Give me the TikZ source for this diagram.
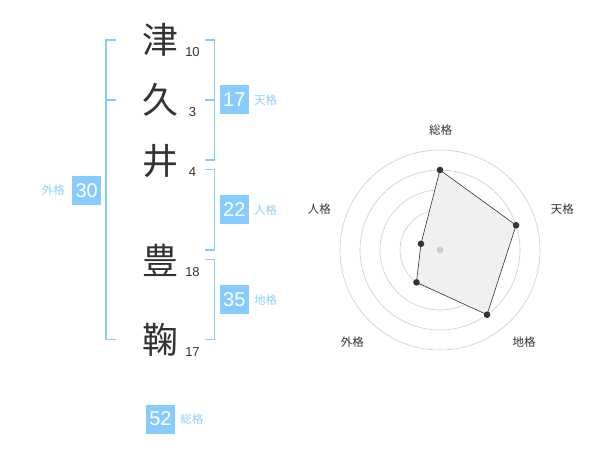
\documentclass[tikz,border=0pt]{standalone}
\usepackage{fontspec}
\setmainfont{Noto Sans CJK JP}
\newfontfamily\digitfont{Liberation Sans}
\usetikzlibrary{positioning}
\definecolor{kakublue}{HTML}{88CCFF}
\definecolor{kakulabel}{HTML}{8ED0FA}
\definecolor{chargray}{HTML}{333333}
\definecolor{ringgray}{HTML}{CCCCCC}
\definecolor{areagray}{HTML}{F0F0F0}

\begin{document}
\begin{tikzpicture}[x=1pt,y=-1pt,
  kanji/.style={text=chargray, font=\fontsize{36}{36}\selectfont, inner sep=0pt},
  strokes/.style={text=chargray, font=\digitfont\fontsize{13}{13}\selectfont, inner sep=0pt},
  kakubox/.style={fill=kakublue, text=white, font=\digitfont\fontsize{20}{20}\selectfont, minimum size=29pt, inner sep=0pt},
  kakuname/.style={text=kakulabel, font=\fontsize{11.5}{11.5}\selectfont, inner sep=0pt},
  bracket/.style={draw=kakublue, line width=1.6pt},
  radarname/.style={text=chargray, font=\fontsize{11.5}{11.5}\selectfont, inner sep=0pt},
  radardot/.style={fill=chargray, draw=none}]
\useasboundingbox (0,0) rectangle (600,470);

% name, one character per row
\node [kanji] (c1) at (160,40) {津};
\node [kanji] (c2) at (160,100) {久};
\node [kanji] (c3) at (160,161) {井};
\node [kanji] (c4) at (160,260) {豊};
\node [kanji] (c5) at (160,340) {鞠};

\node [strokes] (n1) at (192.5,52.5) {10};
\node [strokes] (n2) at (192.5,112.5) {3};
\node [strokes] (n3) at (192.5,172.5) {4};
\node [strokes] (n4) at (192.5,272.5) {18};
\node [strokes] (n5) at (192.5,352.5) {17};

% brackets
\draw [bracket] (115.7,40) -- (105.7,40) -- (105.7,339.5) -- (115.7,339.5);
\draw [bracket] (105.7,100) -- (115.7,100);
\draw [bracket] (205,40) -- (214.3,40) -- (214.3,160) -- (205,160);
\draw [bracket] (214.3,100) -- (205,100);
\draw [bracket] (205,169.5) -- (214.3,169.5) -- (214.3,250) -- (205,250);
\draw [bracket] (205,259.5) -- (214.3,259.5) -- (214.3,339.5) -- (205,339.5);

% totals
\node [kakubox] (ten) at (234.3,100) {17};
\node [kakuname, right=5pt of ten] (tenname) {天格};
\node [kakubox] (jin) at (234.3,210) {22};
\node [kakuname, right=5pt of jin] (jinname) {人格};
\node [kakubox] (chi) at (234.3,300) {35};
\node [kakuname, right=5pt of chi] (chiname) {地格};
\node [kakubox] (gai) at (86.7,190.3) {30};
\node [kakuname, left=7pt of gai] (gainame) {外格};
\node [kakubox] (sou) at (160.5,419) {52};
\node [kakuname, right=5pt of sou] (souname) {総格};

% radar chart
\begin{scope}[shift={(440,250)}]
\foreach \r in {20,40,60,80,100}
  \draw [ringgray, line width=0.6pt] (0,0) circle (\r);
\coordinate (psou) at (-90:80);
\coordinate (pten) at (-18:80);
\coordinate (pchi) at (54:80);
\coordinate (pgai) at (126:40);
\coordinate (pjin) at (-162:20);
\end{scope}
\filldraw [fill=areagray, draw=chargray, line width=0.6pt]
  (psou) -- (pten) -- (pchi) -- (pgai) -- (pjin) -- cycle;
\fill [ringgray] (440,250) circle (3.5);
\foreach \p in {psou,pten,pchi,pgai,pjin}
  \fill [radardot] (\p) circle (3.3);

\node [radarname] (lsou) at (440.7,130.5) {総格};
\node [radarname] (lten) at (562.3,209) {天格};
\node [radarname] (lchi) at (524,342.5) {地格};
\node [radarname] (lgai) at (352.3,342.5) {外格};
\node [radarname] (ljin) at (319.3,209) {人格};
\end{tikzpicture}
\end{document}
